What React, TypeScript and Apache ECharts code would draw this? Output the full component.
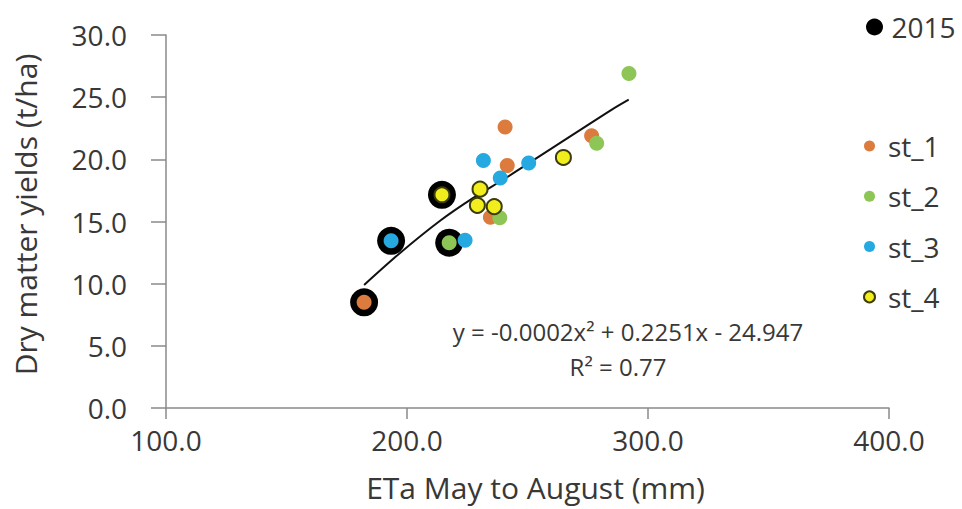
import React, { useEffect, useRef } from "react";
import * as echarts from "echarts";

// ---- data ----
const xTickValues = [100, 200, 300, 400];
const yTickValues = [0, 5, 10, 15, 20, 25, 30];

const legendTop = ["2015"];
const legendStations = ["st_1", "st_2", "st_3", "st_4"];

const yr2015X = [182.2, 193.4, 214.5, 217.5];
const yr2015Y = [8.5, 13.45, 17.15, 13.3];

const st1X = [182.2, 240.7, 241.6, 276.6, 234.6];
const st1Y = [8.5, 22.6, 19.5, 21.9, 15.35];

const st2X = [217.5, 238.5, 278.7, 292.1];
const st2Y = [13.3, 15.3, 21.3, 26.9];

const st3X = [193.4, 231.7, 250.5, 238.7, 224.1];
const st3Y = [13.45, 19.9, 19.7, 18.5, 13.5];

const st4X = [214.5, 264.9, 230.3, 229.2, 236.2];
const st4Y = [17.15, 20.15, 17.6, 16.3, 16.2];

// trendline as drawn in the picture
const trendX = [182.2, 197, 214, 227.5, 241, 261, 285, 292];
const trendY = [9.9, 12.45, 15.1, 16.9, 18.5, 21.0, 24.0, 24.8];

const equationText = "y = -0.0002x\u00B2 + 0.2251x - 24.947";
const r2Text = "R\u00B2 = 0.77";

const xAxisTitle = "ETa May to August (mm)";
const yAxisTitle = "Dry matter yields (t/ha)";

const zip = (xs: number[], ys: number[]) => xs.map((x, i) => [x, ys[i]]);

const FONT = "'Open Sans', 'Noto Sans', sans-serif";
const TEXT = "#383838";
const AXIS = "#8a8a8a";

export default function App() {
  const ref = useRef<HTMLDivElement>(null);

  useEffect(() => {
    if (!ref.current) return;
    const chart = echarts.init(ref.current, undefined, { renderer: "svg" });
    const option: any = {
      animation: false,
      backgroundColor: "#ffffff",
      textStyle: { fontFamily: FONT },
      grid: { left: 166, right: 73, top: 35, bottom: 101, containLabel: false },
      xAxis: {
        type: "value",
        min: xTickValues[0],
        max: xTickValues[xTickValues.length - 1],
        interval: 100,
        name: xAxisTitle,
        nameLocation: "middle",
        nameGap: 64,
        nameTextStyle: { fontSize: 30, color: TEXT, fontFamily: FONT, padding: [0, 0, 0, 16] },
        axisLine: { show: true, lineStyle: { color: AXIS, width: 1.5 } },
        axisTick: { show: true, length: 11, lineStyle: { color: AXIS, width: 1.5 } },
        splitLine: { show: false },
        axisLabel: {
          fontSize: 28,
          color: TEXT,
          fontFamily: FONT,
          margin: 18,
          formatter: (v: number) => v.toFixed(1),
        },
      },
      yAxis: {
        type: "value",
        min: yTickValues[0],
        max: yTickValues[yTickValues.length - 1],
        interval: 5,
        name: yAxisTitle,
        nameLocation: "middle",
        nameGap: 126,
        nameRotate: 90,
        nameTextStyle: { fontSize: 30, color: TEXT, fontFamily: FONT, padding: [0, 0, 0, 14] },
        axisLine: { show: true, lineStyle: { color: AXIS, width: 1.5 } },
        axisTick: { show: true, length: 15, lineStyle: { color: AXIS, width: 1.5 } },
        splitLine: { show: false },
        axisLabel: {
          fontSize: 28,
          color: TEXT,
          fontFamily: FONT,
          margin: 39,
          formatter: (v: number) => v.toFixed(1),
        },
      },
      legend: [
        {
          data: legendTop,
          orient: "vertical",
          left: 861,
          top: 7,
          itemWidth: 24,
          itemHeight: 17,
          textStyle: { fontSize: 28, color: TEXT, fontFamily: FONT, lineHeight: 30 },
        },
        {
          data: legendStations,
          orient: "vertical",
          left: 858,
          top: 126,
          itemWidth: 27,
          itemHeight: 11,
          itemGap: 20.3,
          textStyle: { fontSize: 28, color: TEXT, fontFamily: FONT, lineHeight: 30 },
        },
      ],
      series: [
        {
          name: "2015",
          type: "scatter",
          symbol: "circle",
          symbolSize: 28,
          itemStyle: { color: "#000000", opacity: 1 },
          data: zip(yr2015X, yr2015Y),
          z: 2,
        },
        {
          name: "trend",
          type: "line",
          data: zip(trendX, trendY),
          smooth: 0.3,
          showSymbol: false,
          symbol: "none",
          lineStyle: { color: "#111111", width: 2 },
          z: 3,
          silent: true,
        },
        {
          name: "st_1",
          type: "scatter",
          symbolSize: 15,
          itemStyle: { color: "#DB7B3E", opacity: 1 },
          data: zip(st1X, st1Y),
          z: 4,
        },
        {
          name: "st_2",
          type: "scatter",
          symbolSize: 15,
          itemStyle: { color: "#8DC656", opacity: 1 },
          data: zip(st2X, st2Y),
          z: 4,
        },
        {
          name: "st_3",
          type: "scatter",
          symbolSize: 15,
          itemStyle: { color: "#26A9E0", opacity: 1 },
          data: zip(st3X, st3Y),
          z: 4,
        },
        {
          name: "st_4",
          type: "scatter",
          symbolSize: 15,
          itemStyle: { color: "#F2EE1E", borderColor: "#3c3c0a", borderWidth: 2, opacity: 1 },
          data: zip(st4X, st4Y),
          z: 5,
        },
      ],
      graphic: [
        {
          type: "text",
          x: 628,
          y: 331,
          style: {
            text: equationText,
            fontSize: 24,
            fill: TEXT,
            fontFamily: FONT,
            align: "center",
            verticalAlign: "middle",
          },
        },
        {
          type: "text",
          x: 618,
          y: 366,
          style: {
            text: r2Text,
            fontSize: 24,
            fill: TEXT,
            fontFamily: FONT,
            align: "center",
            verticalAlign: "middle",
          },
        },
      ],
    };
    chart.setOption(option);
    return () => chart.dispose();
  }, []);

  return (
    <div
      ref={ref}
      style={{ position: "fixed", left: 0, top: 0, width: 962, height: 509, background: "#fff" }}
    />
  );
}
